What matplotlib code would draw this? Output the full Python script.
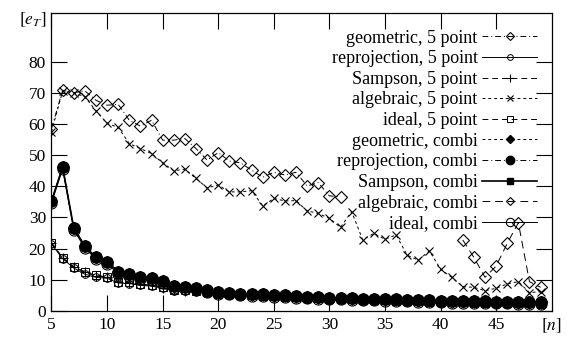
import matplotlib
matplotlib.use('Agg')
import matplotlib.pyplot as plt
import numpy as np

n = list(range(5, 50))
n_geo5 = list(range(5, 32))
n_algc = list(range(42, 50))

geo_5 = [58.5, 70.8, 70.0, 70.6, 67.6, 66.0, 66.3, 61.2, 59.3, 61.2, 54.8, 54.8, 55.3, 52.1,
         48.4, 50.8, 48.1, 47.5, 45.2, 42.9, 44.5, 43.6, 44.5, 40.1, 41.2, 36.9, 36.7]
rep_5 = [21.5, 16.8, 13.8, 11.8, 10.8, 10.5, 9.0, 8.8, 8.2, 8.0, 7.3, 6.5, 6.3, 6.1, 5.9,
         5.4, 5.2, 5.0, 4.8, 4.7, 4.5, 4.4, 4.2, 4.0, 3.9, 3.8, 3.7, 3.6, 3.5, 3.4, 3.3,
         3.2, 3.1, 3.0, 2.9, 2.8, 2.7, 2.7, 2.6, 2.6, 2.5, 2.5, 2.4, 2.4, 2.3]
sam_5 = [21.8, 17.0, 14.1, 12.4, 11.2, 10.9, 9.3, 9.1, 8.5, 8.2, 7.5, 6.7, 6.5, 6.3, 6.0,
         5.5, 5.3, 5.1, 4.9, 4.8, 4.6, 4.5, 4.3, 4.1, 4.0, 3.8, 3.7, 3.6, 3.5, 3.4, 3.3,
         3.2, 3.1, 3.0, 2.9, 2.8, 2.7, 2.7, 2.6, 2.6, 2.5, 2.5, 2.4, 2.4, 2.3]
alg_5 = [57.5, 70.5, 70.0, 68.7, 64.2, 60.2, 58.9, 53.7, 52.1, 50.5,
         47.5, 45.0, 45.5, 42.5, 39.5, 40.4, 38.2, 38.2, 38.6, 33.7,
         36.1, 35.3, 35.4, 32.1, 31.3, 29.7, 26.8, 31.9, 22.8, 24.9,
         23.0, 24.4, 17.9, 16.3, 19.3, 13.4, 10.8, 7.8, 7.6, 6.5,
         7.3, 8.7, 9.4, 5.9, 6.2]
ideal_5 = [21.9, 17.1, 14.2, 12.6, 11.4, 11.0, 9.4, 9.2, 8.6, 8.3, 7.6, 6.8, 6.6, 6.4, 6.1,
           5.6, 5.4, 5.2, 5.0, 4.9, 4.7, 4.6, 4.4, 4.2, 4.1, 3.9, 3.8, 3.7, 3.6, 3.5, 3.4,
           3.3, 3.2, 3.1, 3.0, 2.9, 2.8, 2.8, 2.7, 2.7, 2.6, 2.6, 2.5, 2.5, 2.4]
combi = [35.3, 46.2, 26.7, 20.8, 17.2, 15.8, 12.6, 11.9, 10.8, 10.5,
         9.7, 8.0, 7.8, 7.5, 6.6, 6.0, 5.8, 5.6, 5.4, 5.3,
         5.1, 5.0, 4.8, 4.6, 4.5, 4.3, 4.2, 4.1, 4.0, 3.9,
         3.8, 3.7, 3.6, 3.5, 3.4, 3.3, 3.2, 3.2, 3.1, 3.1,
         3.0, 3.0, 2.9, 2.9, 2.8]
alg_combi = [22.8, 17.2, 10.8, 14.4, 21.7, 28.3, 9.4, 7.6]
ideal_combi = [34.6, 45.5, 26.0, 20.2, 16.6, 15.2, 12.0, 11.3, 10.2, 9.9, 9.1, 7.4, 7.2, 6.9,
               6.1, 5.5, 5.3, 5.1, 4.9, 4.8, 4.6, 4.5, 4.3, 4.1, 4.0, 3.8, 3.7, 3.6, 3.5,
               3.4, 3.3, 3.2, 3.1, 3.0, 2.9, 2.8, 2.7, 2.7, 2.6, 2.6, 2.5, 2.5, 2.4, 2.4, 2.3]

xticks = [5, 10, 15, 20, 25, 30, 35, 40, 45, 50]
xlabels = ['5', '10', '15', '20', '25', '30', '35', '40', '45', r'$[n]$']
yticks = [0, 10, 20, 30, 40, 50, 60, 70, 80, 94.3]
ylabels = ['0', '10', '20', '30', '40', '50', '60', '70', '80', r'$[e_T]$']

plt.rcParams['font.family'] = ['Liberation Serif', 'DejaVu Serif']
plt.rcParams['mathtext.fontset'] = 'stix'
plt.rcParams['font.size'] = 13

fig = plt.figure(figsize=(5.69, 3.40), dpi=100)
ax = fig.add_axes([0.0905, 0.0853, 0.8791, 0.8757])

dashdot = (0, (6, 3, 1, 3))
dash = (0, (6, 4))
sdash = (0, (3, 3))
ldash = (0, (8, 5))
lw = 0.7

h = {}
h['geo5'], = ax.plot(n_geo5, geo_5, color='k', lw=lw, ls=dashdot, marker='D', ms=6, mfc='none', mew=0.8)
h['rep5'], = ax.plot(n, rep_5, color='k', lw=lw, ls='-', marker='o', ms=5.5, mfc='none', mew=0.7)
h['sam5'], = ax.plot(n, sam_5, color='k', lw=lw, ls=dash, marker='+', ms=7, mew=0.8)
h['alg5'], = ax.plot(n, alg_5, color='k', lw=lw, ls=sdash, marker='x', ms=6, mew=0.8)
h['ideal5'], = ax.plot(n, ideal_5, color='k', lw=lw, ls=dash, marker='s', ms=5.5, mfc='none', mew=0.7)
h['idealc'], = ax.plot(n, ideal_combi, color='k', lw=lw, ls='-', marker='o', ms=8, mfc='none', mew=0.8)
h['geoc'], = ax.plot(n, combi, color='k', lw=lw, ls=sdash, marker='D', ms=6)
h['samc'], = ax.plot(n, combi, color='k', lw=1.2, ls='-', marker='s', ms=6)
h['repc'], = ax.plot(n, combi, color='k', lw=lw, ls=dashdot, marker='o', ms=8)
h['algc'], = ax.plot(n_algc, alg_combi, color='k', lw=lw, ls=ldash, marker='D', ms=6, mfc='none', mew=0.8)

order = ['geo5', 'rep5', 'sam5', 'alg5', 'ideal5', 'geoc', 'repc', 'samc', 'algc', 'idealc']
names = ['geometric, 5 point', 'reprojection, 5 point', 'Sampson, 5 point', 'algebraic, 5 point',
         'ideal, 5 point', 'geometric, combi', 'reprojection, combi', 'Sampson, combi',
         'algebraic, combi', 'ideal, combi']
leg = ax.legend([h[k] for k in order], names, loc='upper right', markerfirst=False,
                frameon=False, handlelength=3.05, handletextpad=0.25, labelspacing=0.2,
                borderaxespad=0.0, borderpad=0.0, bbox_to_anchor=(0.971, 0.945), fontsize=13)
for lh in leg.legend_handles:
  lh.set_markersize(lh.get_markersize() * 0.75)

ax.set_xlim(5, 50)
ax.set_ylim(0, 95.5)
ax.set_xticks(xticks)
ax.set_xticklabels(xlabels)
ax.set_yticks(yticks)
ax.set_yticklabels(ylabels)
ax.tick_params(direction='in', length=11.5, width=0.8, top=True, right=True, labelsize=12.5, pad=4)
ax.xaxis.get_major_ticks()[-1].tick1line.set_visible(False)
ax.xaxis.get_major_ticks()[-1].tick2line.set_visible(False)
ax.yaxis.get_major_ticks()[-1].tick1line.set_visible(False)
ax.yaxis.get_major_ticks()[-1].tick2line.set_visible(False)
for s in ax.spines.values():
  s.set_linewidth(0.9)

fig.savefig('out.png', dpi=100)
